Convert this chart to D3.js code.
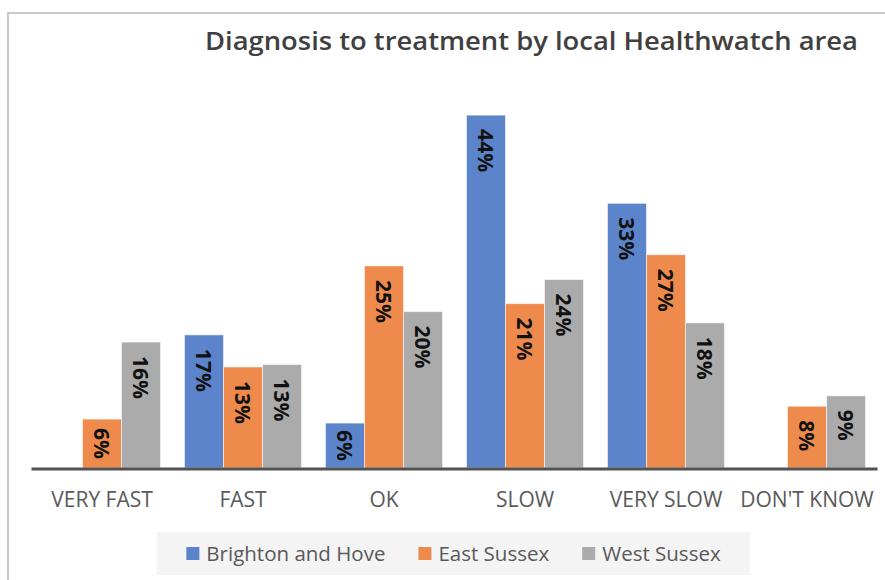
<!DOCTYPE html>
<html>
<head>
<meta charset="utf-8">
<script src="https://cdn.jsdelivr.net/npm/d3@7"></script>
<style>
  body { margin: 0; background: #fff; }
  text { font-family: "Open Sans", sans-serif; }
</style>
</head>
<body>
<div id="vis"></div>
<script>
const categories = ['VERY FAST', 'FAST', 'OK', 'SLOW', 'VERY SLOW', "DON'T KNOW"];
const seriesNames = ['Brighton and Hove', 'East Sussex', 'West Sussex'];
const brighton = [0, 0.166, 0.056, 0.44, 0.33, 0];
const eastSussex = [0.061, 0.126, 0.252, 0.205, 0.266, 0.077];
const westSussex = [0.157, 0.129, 0.195, 0.235, 0.181, 0.09];
const colours = ['#5B84CB', '#EE8B4C', '#ABABAB'];

const width = 885, height = 580;
const plot = { left: 31.5, right: 877.5, top: 67, bottom: 468 };

const $svg = d3.select('#vis').append('svg')
  .attr('width', width)
  .attr('height', height);

// chart frame
$svg.append('rect')
  .attr('x', 8).attr('y', 13)
  .attr('width', 920).attr('height', 620)
  .attr('fill', '#fff')
  .attr('stroke', '#c9c9c9')
  .attr('stroke-width', 2);

$svg.append('text')
  .attr('x', 205).attr('y', 50)
  .attr('textLength', 653)
  .attr('lengthAdjust', 'spacingAndGlyphs')
  .attr('font-size', 26)
  .attr('font-weight', 600)
  .attr('fill', '#404040')
  .text('Diagnosis to treatment by local Healthwatch area');

const data = categories.map((c, i) => ({
  category: c,
  values: [brighton[i], eastSussex[i], westSussex[i]]
}));

// scales
const x0 = d3.scaleBand()
  .domain(categories)
  .range([plot.left, plot.right])
  .paddingInner(0.17)
  .paddingOuter(0.085);

const x1 = d3.scaleBand()
  .domain(d3.range(seriesNames.length))
  .range([0, x0.bandwidth()]);

const y = d3.scaleLinear()
  .domain([0, 0.5])
  .range([plot.bottom, plot.top]);

const fmt = d3.format('.0%');

const $groups = $svg.append('g').attr('class', 'bars')
  .selectAll('g')
  .data(data)
  .join('g')
  .attr('transform', d => `translate(${x0(d.category)}, 0)`);

const $bars = $groups.selectAll('g')
  .data(d => d.values.map((v, i) => ({ v, i })).filter(d => d.v > 0))
  .join('g');

$bars.append('rect')
  .attr('x', d => x1(d.i))
  .attr('y', d => y(d.v))
  .attr('width', x1.bandwidth())
  .attr('height', d => y(0) - y(d.v))
  .attr('fill', d => colours[d.i])
  .attr('stroke', '#fff')
  .attr('stroke-opacity', 0.55)
  .attr('stroke-width', 1);

$bars.append('text')
  .attr('font-family', '"Liberation Sans", Arial, sans-serif')
  .attr('font-size', 21)
  .attr('font-weight', 700)
  .attr('fill', '#111')
  .attr('dominant-baseline', 'central')
  .text(d => fmt(d.v))
  .each(function(d) {
    const len = this.getComputedTextLength();
    const barH = y(0) - y(d.v);
    const offset = Math.min(14, (barH - len) / 2);
    const cx = x1(d.i) + x1.bandwidth() / 2;
    const cy = y(d.v) + offset;
    d3.select(this).attr('transform', `translate(${cx}, ${cy}) rotate(90)`);
  });

// category axis
const xAxis = d3.axisBottom(x0).tickSize(0).tickPadding(0);
const $xAxis = $svg.append('g')
  .attr('transform', `translate(0, ${plot.bottom})`)
  .call(xAxis);
$xAxis.select('.domain')
  .attr('d', `M${plot.left},1H${plot.right}`)
  .attr('stroke', '#525252')
  .attr('stroke-width', 3);
$xAxis.selectAll('.tick text')
  .attr('y', 39)
  .attr('dy', 0)
  .attr('font-family', '"Open Sans", sans-serif')
  .attr('font-size', 21)
  .attr('fill', '#595959');

// legend
const $legend = $svg.append('g').attr('class', 'legend');
$legend.append('rect')
  .attr('x', 157).attr('y', 532)
  .attr('width', 593).attr('height', 43)
  .attr('fill', '#f4f4f4');

const $items = $legend.selectAll('g.item')
  .data(seriesNames)
  .join('g')
  .attr('class', 'item');

$items.append('rect')
  .attr('width', 13).attr('height', 13)
  .attr('y', 547)
  .attr('fill', (d, i) => colours[i]);

$items.append('text')
  .attr('y', 561)
  .attr('font-size', 20.5)
  .attr('fill', '#595959')
  .text(d => d);

let cursor = 0;
const positions = [];
$items.each(function(d, i) {
  const w = d3.select(this).select('text').node().getComputedTextLength();
  positions.push(cursor);
  cursor += 13 + 7 + w + (i < seriesNames.length - 1 ? 33 : 0);
});
const startX = 157 + (593 - cursor) / 2;
$items.each(function(d, i) {
  const g = d3.select(this);
  g.select('rect').attr('x', startX + positions[i]);
  g.select('text').attr('x', startX + positions[i] + 20);
});
</script>
</body>
</html>
